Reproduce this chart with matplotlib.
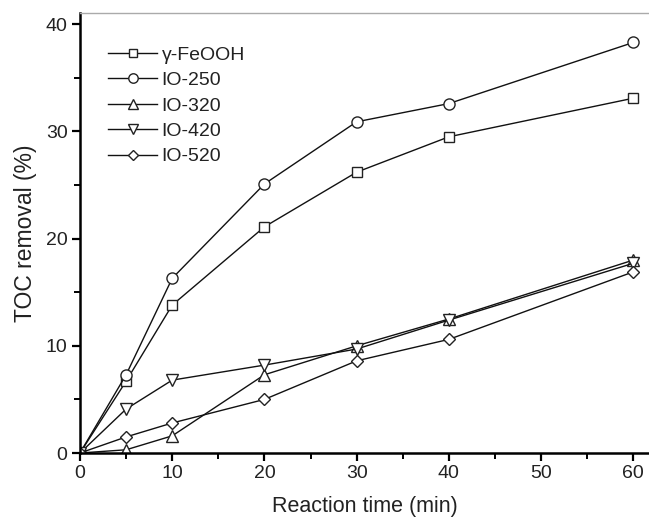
import matplotlib
matplotlib.use("Agg")
from matplotlib import pyplot as plt

# tempos de reacao (min)
tempo = [0, 5, 10, 20, 30, 40, 60]

# remocao de TOC (%) para cada amostra
feooh = [0, 6.7, 13.8, 21.1, 26.2, 29.5, 33.1]
io250 = [0, 7.3, 16.3, 25.1, 30.9, 32.6, 38.3]
io320 = [0, 0.3, 1.6, 7.3, 10.0, 12.5, 18.0]
io420 = [0, 4.1, 6.8, 8.2, 9.7, 12.4, 17.7]
io520 = [0, 1.5, 2.8, 5.0, 8.6, 10.6, 16.9]

nomes = [u"\u03b3-FeOOH", "IO-250", "IO-320", "IO-420", "IO-520"]
series = [feooh, io250, io320, io420, io520]
marcadores = ["s", "o", "^", "v", "D"]
tamanhos = [7, 8, 9, 9, 6.5]

plt.rcParams['font.family'] = ['Liberation Sans', 'DejaVu Sans']

fig = plt.figure(figsize=(6.49, 5.18), dpi=100)
ax = fig.add_axes([80/649., 65/518., 1 - 80/649., (453 - 13)/518.])

for y, nome, m, s in zip(series, nomes, marcadores, tamanhos):
    ax.plot(tempo, y, color="#111111", lw=1.0, marker=m, ms=s,
            mfc="white", mec="#222222", mew=1.0, label=nome)

ax.set_xlim(0, 61.7)
ax.set_ylim(0, 41.05)
ax.set_xticks([0, 10, 20, 30, 40, 50, 60])
ax.set_xticks([5, 15, 25, 35, 45, 55], minor=True)
ax.set_yticks([0, 10, 20, 30, 40])
ax.set_yticks([5, 15, 25, 35], minor=True)
ax.tick_params(which="major", direction="out", length=6, width=1.6, labelsize=14, pad=3,
               labelcolor="#222222")
ax.tick_params(which="minor", direction="out", length=4, width=1.4)

ax.spines["left"].set_linewidth(1.8)
ax.spines["bottom"].set_linewidth(1.8)
ax.spines["right"].set_visible(False)
ax.spines["top"].set_color("#aaaaaa")
ax.spines["top"].set_linewidth(1.0)

ax.set_xlabel("Reaction time (min)", fontsize=15.5, labelpad=10, color="#222222")
ax.set_ylabel("TOC removal (%)", fontsize=16.5, labelpad=6, color="#222222")

leg = ax.legend(loc="upper left", bbox_to_anchor=(0.036, 0.942), frameon=False,
                fontsize=14, handlelength=2.5, handletextpad=0.25,
                labelspacing=0.4, borderaxespad=0, markerscale=0.85)
for t in leg.get_texts():
    t.set_color("#222222")

plt.savefig("out.png", dpi=100)
plt.close()
